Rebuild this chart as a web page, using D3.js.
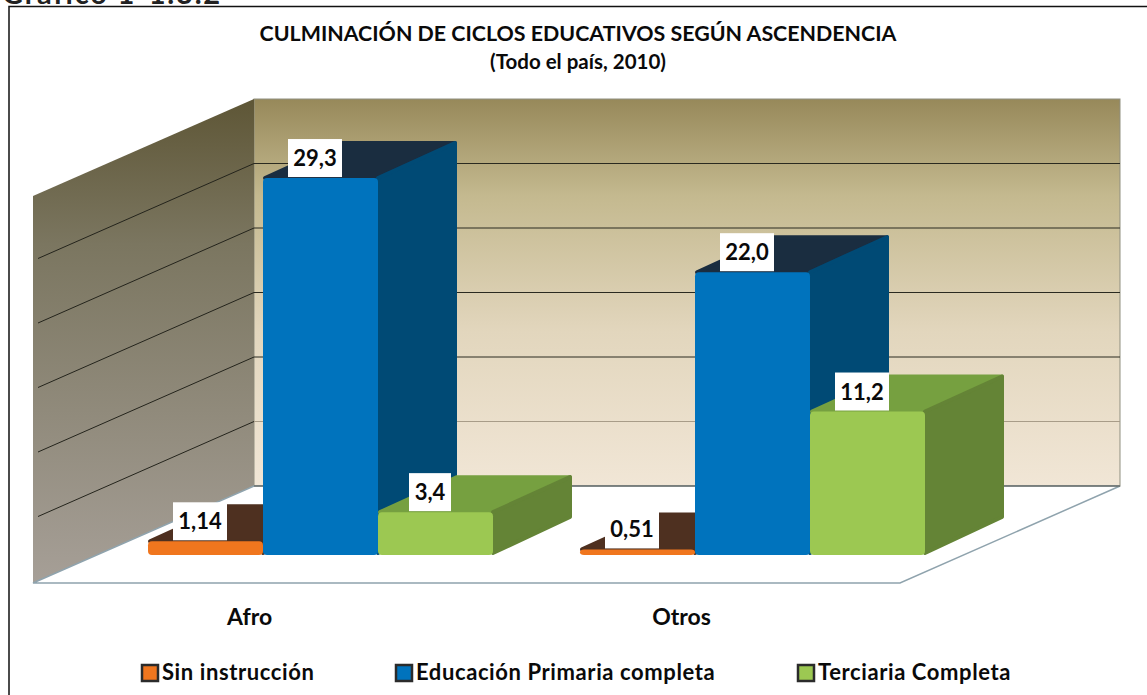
<!DOCTYPE html>
<html><head><meta charset="utf-8">
<script src="https://cdnjs.cloudflare.com/ajax/libs/d3/7.8.5/d3.min.js"></script>
<style>html,body{margin:0;background:#fff}svg{display:block}text{font-family:Lato,"Open Sans",sans-serif;font-weight:700;fill:#0a0a0a}</style>
</head><body><div id="c"></div>
<script>
const categories = ["Afro", "Otros"];
const series = ["Sin instrucción", "Educación Primaria completa", "Terciaria Completa"];
const sinInstruccion = [1.14, 0.51];
const primaria = [29.3, 22.0];
const terciaria = [3.4, 11.2];
const labels = [["1,14", "0,51"], ["29,3", "22,0"], ["3,4", "11,2"]];
const front = ["#f0761e", "#0073bd", "#9cc852"];
const top_ = ["#4e3020", "#1a2d40", "#76a040"];
const side = ["#4e3020", "#004a75", "#648436"];
const values = [sinInstruccion, primaria, terciaria];

const W = 1147, H = 695;
const svg = d3.select("#c").append("svg").attr("width", W).attr("height", H);
const defs = svg.append("defs");
function grad(id, stops) {
  const g = defs.append("linearGradient").attr("id", id).attr("x1", 0).attr("x2", 0).attr("y1", 0).attr("y2", 1);
  stops.forEach(s => g.append("stop").attr("offset", s[0]).attr("stop-color", s[1]));
}
grad("back", [[0, "#97895a"], [0.25, "#c4b98f"], [0.6, "#e2d6bd"], [1, "#f1e6d6"]]);
grad("left", [[0, "#5e5636"], [0.3, "#7b7660"], [1, "#a69f97"]]);

const baseY = 554, wallH = 387, bevel = 2;
const y = d3.scaleLinear().domain([0, 30]).range([baseY, baseY - wallH]);
const x0 = d3.scaleBand().domain(categories).range([104, 968]);
const x1 = d3.scaleBand().domain(series).range([44, 389]);
const barDx = 79, barDy = -37;
const floorDx = 221, floorDy = -97;
const backX0 = 254, backX1 = 1120, backBase = 486;
const wy = v => y(v) - (baseY - backBase);
const ticks = y.ticks(6);
const pts = a => a.map(p => p.join(",")).join(" ");

// cropped caption above the frame, then the frame (no right edge)
svg.append("text").attr("x", 2).attr("y", 4).attr("font-size", 29).style("letter-spacing", "1.8px").style("fill", "#222").text("Gráfico 1-1.3.2");
svg.append("rect").attr("x", 9).attr("y", 6.5).attr("width", W).attr("height", H).attr("fill", "#fff");
svg.append("path").attr("d", `M9,${H}V6.5H${W}`).attr("fill", "none").attr("stroke", "#111").attr("stroke-width", 1.5);
svg.append("text").attr("x", 578).attr("y", 41).attr("text-anchor", "middle").attr("font-size", 21.4).text("CULMINACIÓN DE CICLOS EDUCATIVOS SEGÚN ASCENDENCIA");
svg.append("text").attr("x", 578).attr("y", 69).attr("text-anchor", "middle").attr("font-size", 20.5).text("(Todo el país, 2010)");

// walls
svg.append("rect").attr("x", backX0).attr("y", wy(30)).attr("width", backX1 - backX0).attr("height", wallH).attr("fill", "url(#back)").attr("stroke", "#8f8f80").attr("stroke-width", 1);
svg.append("polygon").attr("points", pts([[backX0, wy(30)], [backX0, backBase], [backX0 - floorDx, backBase - floorDy], [backX0 - floorDx, wy(30) - floorDy]])).attr("fill", "url(#left)");
// floor
svg.append("polygon").attr("points", pts([[backX0, backBase], [backX1, backBase], [backX1 - floorDx + 1, backBase - floorDy], [backX0 - floorDx, backBase - floorDy]])).attr("fill", "#fff").attr("stroke", "#8fa3ad").attr("stroke-width", 1.5);
svg.append("line").attr("x1", backX0).attr("x2", backX1).attr("y1", backBase).attr("y2", backBase).attr("stroke", "#55544c").attr("stroke-width", 1);

// gridlines
const grid = svg.append("g");
ticks.forEach(t => {
  if (t > 0 && t < 30) {
    grid.append("line").attr("x1", backX0).attr("x2", backX1).attr("y1", wy(t)).attr("y2", wy(t)).attr("stroke", t === 5 ? "#a89c88" : "#2a2a20").attr("stroke-width", 1);
    grid.append("line").attr("x1", backX0).attr("x2", backX0 - floorDx + 5).attr("y1", wy(t)).attr("y2", wy(t) - floorDy - 2).attr("stroke", "#24241c").attr("stroke-width", 1);
  }
});

// bars
const bars = svg.append("g");
categories.forEach((c, ci) => {
  series.forEach((s, si) => {
    const v = values[si][ci];
    const xl = x0(c) + x1(s), xr = xl + x1.bandwidth(), yt = y(v) + bevel, yb = y(0);
    const g = bars.append("g").attr("stroke-linejoin", "round").attr("stroke-width", 4);
    g.append("polygon").attr("points", pts([[xl + 2, yt], [xl + barDx, yt + barDy + 2], [xr + barDx - 2, yt + barDy + 2], [xr, yt]])).attr("fill", top_[si]).attr("stroke", top_[si]);
    g.append("polygon").attr("points", pts([[xr, yt], [xr + barDx - 2, yt + barDy + 2], [xr + barDx - 2, yb + barDy], [xr, yb - 1]])).attr("fill", side[si]).attr("stroke", side[si]);
    g.append("rect").attr("x", xl).attr("y", yt).attr("rx", 4).attr("width", x1.bandwidth()).attr("height", yb - yt + 1).attr("fill", front[si]);
  });
});

// labels
const lab = svg.append("g");
categories.forEach((c, ci) => {
  series.forEach((s, si) => {
    const cx = x0(c) + x1(s) + 52, cy = y(values[si][ci]) + bevel - 20;
    const w = labels[si][ci].length === 3 ? 42 : 54;
    lab.append("rect").attr("x", cx - w / 2).attr("y", cy - 19).attr("width", w).attr("height", 38).attr("fill", "#fff");
    lab.append("text").attr("x", cx).attr("y", cy + 8).attr("text-anchor", "middle").attr("font-size", 22).text(labels[si][ci]);
  });
});

// category axis
const axis = svg.append("g").attr("transform", "translate(-70.5,606)").call(d3.axisBottom(x0).tickSize(0));
axis.select(".domain").remove();
axis.selectAll("text").attr("font-size", 23).attr("dy", 0).attr("y", 19).style("font-family", "Lato").style("font-weight", 700);

// legend
const legX = [141, 395, 797];
series.forEach((s, i) => {
  svg.append("rect").attr("x", legX[i] + 1).attr("y", 665).attr("width", 16).attr("height", 16).attr("fill", front[i]).attr("stroke", "#2b2b2b").attr("stroke-width", 2.5);
  svg.append("text").attr("x", legX[i] + 21).attr("y", 680).attr("font-size", 22).style("letter-spacing", "0.6px").text(s);
});
</script></body></html>
